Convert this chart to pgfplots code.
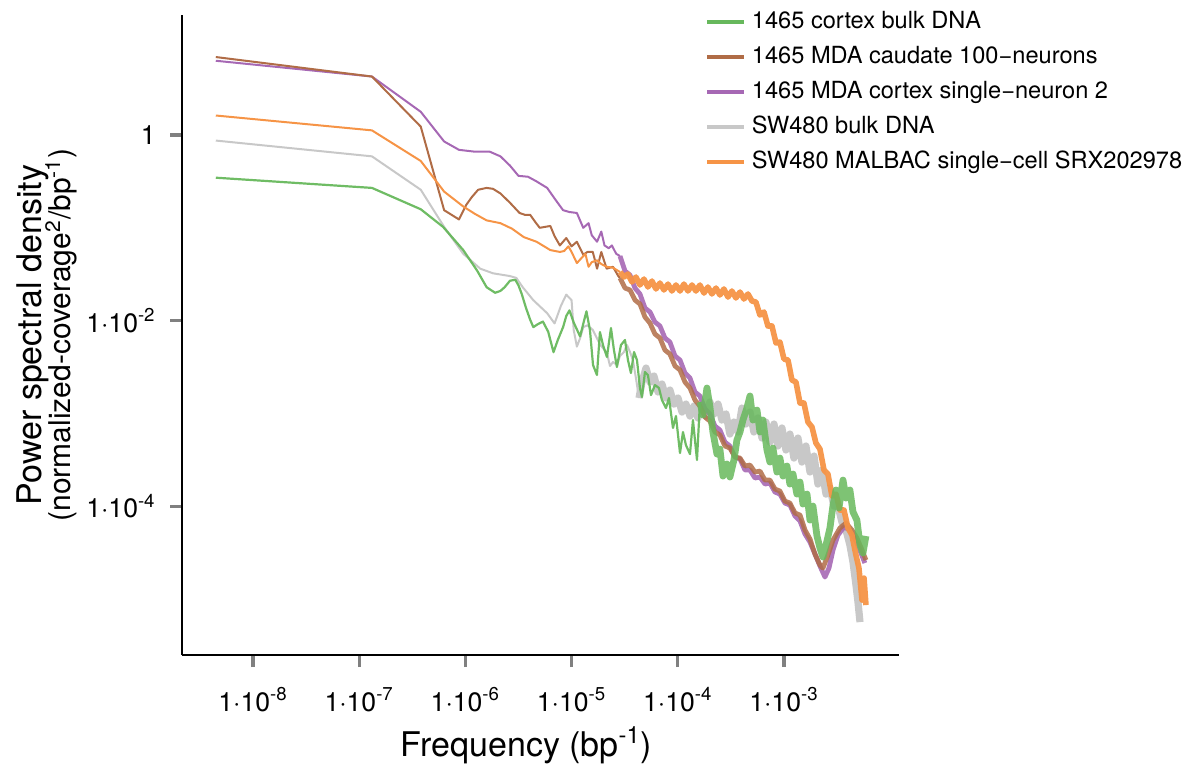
\documentclass[border=0pt]{standalone}
\usepackage{pgfplots}
\usepackage{pgfplotstable}
\pgfplotsset{compat=1.18}
\usepackage{fontspec}
\setmainfont{TeX Gyre Heros}

\definecolor{cgreen}{RGB}{103,184,92}
\definecolor{cbrown}{RGB}{176,108,70}
\definecolor{cpurple}{RGB}{166,104,180}
\definecolor{cgray}{RGB}{200,200,200}
\definecolor{corange}{RGB}{246,148,70}
\definecolor{ctick}{RGB}{128,128,128}

% data: log10(frequency)  log10(PSD)
\pgfplotstableread{
lf lp
-8.35 0.80
-6.88 0.63
-6.42 0.25
-6.20 -0.07
-6.06 -0.16
-5.91 -0.18
-5.77 -0.18
-5.67 -0.23
-5.58 -0.33
-5.50 -0.44
-5.41 -0.45
-5.33 -0.50
-5.23 -0.57
-5.15 -0.70
-5.08 -0.81
-5.02 -0.83
-4.95 -0.84
-4.92 -0.92
-4.89 -1.00
-4.84 -0.95
-4.81 -1.08
-4.76 -1.15
-4.72 -1.04
-4.69 -1.19
-4.65 -1.22
-4.62 -1.19
-4.58 -1.28
-4.544 -1.304
}\purpleA
\pgfplotstableread{
lf lp
-4.544 -1.304
-4.497 -1.466
-4.450 -1.509
-4.403 -1.649
-4.356 -1.713
-4.309 -1.864
-4.262 -1.907
-4.215 -2.015
-4.168 -2.058
-4.121 -2.187
-4.074 -2.231
-4.026 -2.381
-3.979 -2.425
-3.932 -2.565
-3.885 -2.619
-3.838 -2.769
-3.791 -2.813
-3.744 -2.953
-3.697 -3.006
-3.650 -3.136
-3.603 -3.179
-3.556 -3.308
-3.509 -3.351
-3.461 -3.470
-3.414 -3.491
-3.367 -3.610
-3.320 -3.610
-3.273 -3.696
-3.226 -3.685
-3.179 -3.761
-3.132 -3.750
-3.085 -3.847
-3.038 -3.869
-2.991 -3.966
-2.944 -3.987
-2.896 -4.106
-2.849 -4.159
-2.802 -4.300
-2.755 -4.386
-2.708 -4.515
-2.661 -4.644
-2.614 -4.763
-2.576 -4.666
-2.538 -4.472
-2.491 -4.310
-2.435 -4.224
-2.379 -4.256
-2.322 -4.375
-2.275 -4.504
-2.238 -4.612
}\purpleB
\pgfplotstableread{
lf lp
-8.35 0.84
-6.88 0.63
-6.42 0.09
-6.20 -0.81
-6.06 -0.91
-5.99 -0.75
-5.94 -0.67
-5.88 -0.59
-5.80 -0.57
-5.74 -0.58
-5.67 -0.63
-5.58 -0.73
-5.49 -0.84
-5.44 -0.86
-5.39 -0.86
-5.34 -0.94
-5.30 -1.00
-5.25 -0.99
-5.20 -0.98
-5.16 -1.09
-5.11 -1.19
-5.05 -1.11
-5.00 -1.20
-4.95 -1.15
-4.89 -1.29
-4.85 -1.26
-4.80 -1.26
-4.76 -1.44
-4.72 -1.26
-4.67 -1.44
-4.61 -1.42
-4.56 -1.52
-4.544 -1.541
}\brownA
\pgfplotstableread{
lf lp
-4.544 -1.541
-4.497 -1.649
-4.450 -1.670
-4.403 -1.778
-4.356 -1.821
-4.309 -1.961
-4.262 -2.026
-4.215 -2.144
-4.168 -2.187
-4.121 -2.317
-4.074 -2.360
-4.026 -2.489
-3.979 -2.532
-3.932 -2.662
-3.885 -2.726
-3.838 -2.856
-3.791 -2.920
-3.744 -3.039
-3.697 -3.082
-3.650 -3.200
-3.603 -3.233
-3.556 -3.351
-3.509 -3.373
-3.461 -3.470
-3.414 -3.481
-3.367 -3.567
-3.320 -3.556
-3.273 -3.632
-3.226 -3.621
-3.179 -3.718
-3.132 -3.718
-3.085 -3.815
-3.038 -3.836
-2.991 -3.944
-2.944 -3.966
-2.896 -4.073
-2.849 -4.095
-2.802 -4.256
-2.755 -4.353
-2.708 -4.515
-2.661 -4.634
-2.633 -4.666
-2.586 -4.526
-2.538 -4.364
-2.473 -4.235
-2.416 -4.181
-2.360 -4.256
-2.313 -4.343
-2.265 -4.472
-2.228 -4.580
}\brownB
\pgfplotstableread{
lf lp
-8.35 0.21
-6.88 0.05
-6.42 -0.28
-6.20 -0.61
-6.02 -0.77
-5.91 -0.85
-5.80 -0.92
-5.67 -0.95
-5.56 -1.01
-5.45 -1.10
-5.33 -1.15
-5.20 -1.24
-5.11 -1.26
-5.07 -1.25
-5.03 -1.20
-5.00 -1.26
-4.95 -1.38
-4.91 -1.33
-4.87 -1.28
-4.84 -1.42
-4.81 -1.37
-4.76 -1.35
-4.72 -1.39
-4.67 -1.42
-4.61 -1.43
-4.544 -1.476
}\orangeA
\pgfplotstableread{
lf lp
-4.544 -1.476
-4.507 -1.530
-4.469 -1.498
-4.431 -1.584
-4.394 -1.530
-4.356 -1.616
-4.318 -1.552
-4.281 -1.638
-4.243 -1.573
-4.205 -1.659
-4.168 -1.595
-4.130 -1.670
-4.092 -1.606
-4.055 -1.681
-4.017 -1.616
-3.979 -1.681
-3.942 -1.606
-3.904 -1.681
-3.866 -1.616
-3.829 -1.681
-3.791 -1.616
-3.753 -1.703
-3.716 -1.638
-3.678 -1.713
-3.640 -1.649
-3.603 -1.724
-3.565 -1.659
-3.527 -1.746
-3.490 -1.681
-3.452 -1.756
-3.414 -1.692
-3.377 -1.767
-3.339 -1.713
-3.301 -1.789
-3.264 -1.800
-3.226 -1.940
-3.188 -1.907
-3.151 -2.058
-3.113 -2.058
-3.075 -2.241
-3.038 -2.231
-3.000 -2.414
-2.962 -2.425
-2.925 -2.640
-2.887 -2.662
-2.849 -2.888
-2.812 -2.888
-2.774 -3.093
-2.736 -3.147
-2.699 -3.319
-2.661 -3.384
-2.623 -3.610
-2.586 -3.653
-2.548 -3.890
-2.510 -3.869
-2.473 -4.041
-2.435 -4.041
-2.397 -4.235
-2.360 -4.310
-2.322 -4.526
-2.294 -4.666
-2.265 -5.011
-2.246 -4.774
-2.228 -5.065
}\orangeB
\pgfplotstableread{
lf lp
-8.35 -0.06
-6.88 -0.23
-6.42 -0.59
-6.20 -0.99
-6.02 -1.28
-5.86 -1.44
-5.74 -1.49
-5.58 -1.52
-5.52 -1.54
-5.46 -1.64
-5.36 -1.78
-5.23 -1.92
-5.16 -2.03
-5.10 -1.84
-5.05 -1.72
-5.00 -1.78
-4.98 -2.10
-4.95 -2.28
-4.92 -2.19
-4.89 -2.07
-4.85 -2.05
-4.80 -2.10
-4.73 -2.26
-4.667 -2.349
-4.638 -2.489
-4.610 -2.446
-4.573 -2.478
-4.544 -2.381
-4.507 -2.338
-4.478 -2.263
-4.450 -2.338
-4.422 -2.425
-4.394 -2.619
-4.365 -2.834
}\grayA
\pgfplotstableread{
lf lp
-4.365 -2.834
-4.337 -2.662
-4.299 -2.511
-4.262 -2.662
-4.224 -2.597
-4.186 -2.769
-4.149 -2.683
-4.111 -2.834
-4.074 -2.748
-4.036 -2.899
-3.998 -2.834
-3.960 -2.985
-3.923 -2.899
-3.885 -3.028
-3.847 -2.920
-3.810 -3.049
-3.772 -2.920
-3.734 -3.028
-3.697 -2.877
-3.659 -3.006
-3.621 -2.899
-3.584 -3.071
-3.546 -3.006
-3.509 -3.222
-3.471 -3.093
-3.433 -3.200
-3.396 -2.942
-3.358 -3.114
-3.320 -2.985
-3.283 -3.200
-3.245 -3.049
-3.207 -3.265
-3.170 -3.093
-3.132 -3.308
-3.094 -3.114
-3.057 -3.351
-3.019 -3.157
-2.981 -3.394
-2.944 -3.222
-2.906 -3.481
-2.868 -3.265
-2.831 -3.524
-2.793 -3.351
-2.755 -3.631
-2.717 -3.459
-2.680 -3.761
-2.642 -3.610
-2.604 -3.869
-2.567 -3.804
-2.529 -3.998
-2.491 -3.998
-2.454 -4.170
-2.416 -4.256
-2.379 -4.418
-2.350 -4.601
-2.322 -4.849
-2.303 -5.032
-2.284 -5.248
}\grayB
\pgfplotstableread{
lf lp
-8.35 -0.46
-6.88 -0.57
-6.42 -0.80
-6.21 -0.99
-6.02 -1.24
-5.89 -1.46
-5.80 -1.64
-5.72 -1.70
-5.67 -1.68
-5.63 -1.64
-5.58 -1.57
-5.53 -1.56
-5.50 -1.62
-5.47 -1.71
-5.43 -1.86
-5.39 -1.99
-5.36 -2.07
-5.32 -2.04
-5.27 -2.01
-5.22 -2.12
-5.17 -2.34
-5.13 -2.21
-5.08 -2.07
-5.05 -1.95
-5.02 -1.89
-4.98 -2.02
-4.92 -2.17
-4.88 -1.99
-4.86 -1.90
-4.827 -2.101
-4.798 -2.478
-4.761 -2.586
-4.733 -2.123
-4.704 -2.263
-4.667 -2.392
-4.629 -2.080
-4.601 -2.317
-4.573 -2.500
-4.535 -2.263
-4.497 -2.209
-4.469 -2.425
-4.441 -2.565
-4.412 -2.338
-4.384 -2.425
-4.356 -2.726
-4.337 -2.823
-4.309 -2.554
-4.281 -2.586
-4.252 -2.802
-4.215 -2.694
-4.177 -2.726
-4.149 -2.856
-4.111 -2.942
-4.083 -2.834
-4.045 -3.157
-4.017 -3.028
-3.979 -3.427
-3.951 -3.200
-3.923 -3.341
-3.885 -3.438
-3.857 -3.071
-3.819 -3.502
-3.791 -2.877
}\greenA
\pgfplotstableread{
lf lp
-3.791 -2.877
-3.763 -3.017
-3.725 -2.726
-3.697 -2.931
-3.669 -3.200
-3.631 -3.438
-3.603 -3.384
-3.574 -3.675
-3.537 -3.545
-3.509 -3.685
-3.471 -3.502
-3.443 -3.287
-3.414 -3.200
-3.386 -3.071
-3.349 -2.942
-3.320 -2.812
-3.292 -3.071
-3.254 -2.964
-3.226 -3.200
-3.198 -3.071
-3.160 -3.394
-3.132 -3.524
-3.104 -3.373
-3.066 -3.632
-3.038 -3.481
-3.009 -3.675
-2.972 -3.567
-2.944 -3.761
-2.915 -3.653
-2.878 -3.869
-2.849 -3.739
-2.821 -3.976
-2.783 -3.869
-2.755 -4.149
-2.727 -3.998
-2.689 -4.321
-2.661 -4.450
-2.633 -4.547
-2.604 -4.418
-2.567 -4.235
-2.538 -3.987
-2.510 -3.825
-2.482 -4.019
-2.444 -3.718
-2.416 -3.912
-2.379 -3.825
-2.350 -4.062
-2.313 -4.149
-2.284 -4.418
-2.256 -4.504
-2.228 -4.321
}\greenB

\begin{document}
\begin{tikzpicture}
\useasboundingbox (-91pt,-56pt) rectangle (501pt,327.5pt);
\begin{axis}[
  at={(0,0)}, anchor=south west,
  scale only axis, width=358.5pt, height=320pt,
  xmode=log, ymode=log,
  xmin=2.145e-9, xmax=1.211e-2,
  ymin=2.495e-6, ymax=19.63,
  axis lines*=left,
  axis line style={line width=1.2pt, black},
  xtick={1e-8,1e-7,1e-6,1e-5,1e-4,1e-3},
  xticklabels={1·10\textsuperscript{-8},1·10\textsuperscript{-7},1·10\textsuperscript{-6},1·10\textsuperscript{-5},1·10\textsuperscript{-4},1·10\textsuperscript{-3}},
  ytick={1,1e-2,1e-4},
  yticklabels={1,1·10\textsuperscript{-2},1·10\textsuperscript{-4}},
  xminorticks=false, yminorticks=false,
  tick align=outside, major tick length=6pt,
  tick style={line width=1.6pt, ctick},
  xticklabel style={font=\fontsize{13.3}{15}\selectfont, anchor=base, yshift=-22pt, inner sep=0pt},
  yticklabel style={font=\fontsize{13.3}{15}\selectfont, anchor=east, xshift=-7pt, inner sep=0pt},
  xlabel={Frequency (bp\textsuperscript{-1})},
  xlabel style={font=\fontsize{17}{20}\selectfont, at={(axis description cs:0.4805,0)}, anchor=base, yshift=-50.5pt, inner sep=0pt},
  ylabel={{\fontsize{17}{20}\selectfont Power spectral density}\\[-3pt]{\fontsize{15}{17}\selectfont (normalized-coverage\textsuperscript{2}/bp\textsuperscript{-1})}},
  ylabel style={align=center, at={([xshift=-67.5pt]axis description cs:0,0.5)}, anchor=center},
  legend style={at={(rel axis cs:0.7294,1.009)}, anchor=north west, draw=none, fill=none,
    font=\fontsize{11.8}{13}\selectfont, row sep=4.7pt, column sep=1.8pt, inner sep=0pt,
    nodes={inner sep=1pt, text height=8.4pt, text depth=2.4pt}},
  legend cell align=left,
  legend image code/.code={\draw[line width=2pt] (0pt,0pt) -- (18.5pt,0pt);},
  every axis plot/.append style={line join=round},
]
\addlegendimage{cgreen}
\addlegendentry{1465 cortex bulk DNA}
\addlegendimage{cbrown}
\addlegendentry{1465 MDA caudate 100−neurons}
\addlegendimage{cpurple}
\addlegendentry{1465 MDA cortex single−neuron 2}
\addlegendimage{cgray}
\addlegendentry{SW480 bulk DNA}
\addlegendimage{corange}
\addlegendentry{SW480 MALBAC single−cell SRX202978}

\addplot[forget plot, cgray, line width=1pt] table[x expr=10^(\thisrow{lf}), y expr=10^(\thisrow{lp})] {\grayA};
\addplot[forget plot, cgray, line width=3.6pt] table[x expr=10^(\thisrow{lf}), y expr=10^(\thisrow{lp})] {\grayB};
\addplot[forget plot, cpurple, line width=1pt] table[x expr=10^(\thisrow{lf}), y expr=10^(\thisrow{lp})] {\purpleA};
\addplot[forget plot, cpurple, line width=2.4pt, opacity=0.9] table[x expr=10^(\thisrow{lf}), y expr=10^(\thisrow{lp})] {\purpleB};
\addplot[forget plot, cbrown, line width=1pt] table[x expr=10^(\thisrow{lf}), y expr=10^(\thisrow{lp})] {\brownA};
\addplot[forget plot, cbrown, line width=2.4pt, opacity=0.85] table[x expr=10^(\thisrow{lf}), y expr=10^(\thisrow{lp})] {\brownB};
\addplot[forget plot, corange, line width=1pt] table[x expr=10^(\thisrow{lf}), y expr=10^(\thisrow{lp})] {\orangeA};
\addplot[forget plot, corange, line width=2.8pt, opacity=0.95] table[x expr=10^(\thisrow{lf}), y expr=10^(\thisrow{lp})] {\orangeB};
\addplot[forget plot, cgreen, line width=1.1pt, opacity=0.95] table[x expr=10^(\thisrow{lf}), y expr=10^(\thisrow{lp})] {\greenA};
\addplot[forget plot, cgreen, line width=3.4pt, opacity=0.85] table[x expr=10^(\thisrow{lf}), y expr=10^(\thisrow{lp})] {\greenB};
\end{axis}
\end{tikzpicture}
\end{document}
